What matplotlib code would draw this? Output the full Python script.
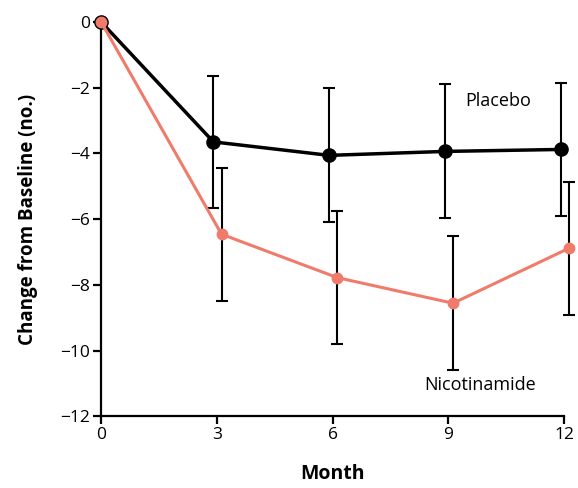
import matplotlib
matplotlib.use("Agg")
import matplotlib.pyplot as plt

plt.rcParams['font.family'] = ['Open Sans', 'DejaVu Sans']

months = [0, 3, 6, 9, 12]
placebo = [0, -3.65, -4.06, -3.94, -3.88]
placebo_err = [0, 2.02, 2.04, 2.04, 2.03]
nicotinamide = [0, -6.46, -7.78, -8.56, -6.89]
nicotinamide_err = [0, 2.02, 2.02, 2.04, 2.03]

salmon = '#f07b6b'

fig = plt.figure(figsize=(5.78, 4.88), dpi=100)
ax = fig.add_axes([0.175, 0.147, 0.801, 0.808])

# small horizontal offsets so the bars don't overlap
xp = [m - 0.09 if m > 0 else m for m in months]
xn = [m + 0.12 if m > 0 else m for m in months]

ax.errorbar(xp[1:], placebo[1:], yerr=placebo_err[1:], fmt='none',
            ecolor='black', elinewidth=1.5, capsize=4, capthick=1.5,
            clip_on=False, zorder=2)
ax.errorbar(xn[1:], nicotinamide[1:], yerr=nicotinamide_err[1:], fmt='none',
            ecolor='black', elinewidth=1.5, capsize=4, capthick=1.5,
            clip_on=False, zorder=2)

ax.plot(xp, placebo, color='black', lw=2.5, marker='o', ms=9.5,
        clip_on=False, zorder=3)
ax.plot(xn, nicotinamide, color=salmon, lw=2.2, marker='o', ms=7.5,
        clip_on=False, zorder=4)

ax.set_xlim(0, 12)
ax.set_ylim(-12, 0)
ax.set_xticks(months)
ax.set_yticks(range(-12, 1, 2))
ax.set_yticklabels(['\u221212', '\u221210', '\u22128', '\u22126', '\u22124', '\u22122', '0'])

for s in ['top', 'right']:
    ax.spines[s].set_visible(False)
for s in ['left', 'bottom']:
    ax.spines[s].set_linewidth(1.6)
ax.tick_params(width=1.6, length=6, labelsize=12.5, pad=2)

ax.set_xlabel('Month', fontsize=14, fontweight='bold', labelpad=15)
ax.set_ylabel('Change from Baseline (no.)', fontsize=13.5, fontweight='bold', labelpad=16)

ax.text(10.3, -2.4, 'Placebo', fontsize=13, ha='center', va='center')
ax.text(9.82, -11.05, 'Nicotinamide', fontsize=13, ha='center', va='center')

fig.savefig('out.png', dpi=100)
